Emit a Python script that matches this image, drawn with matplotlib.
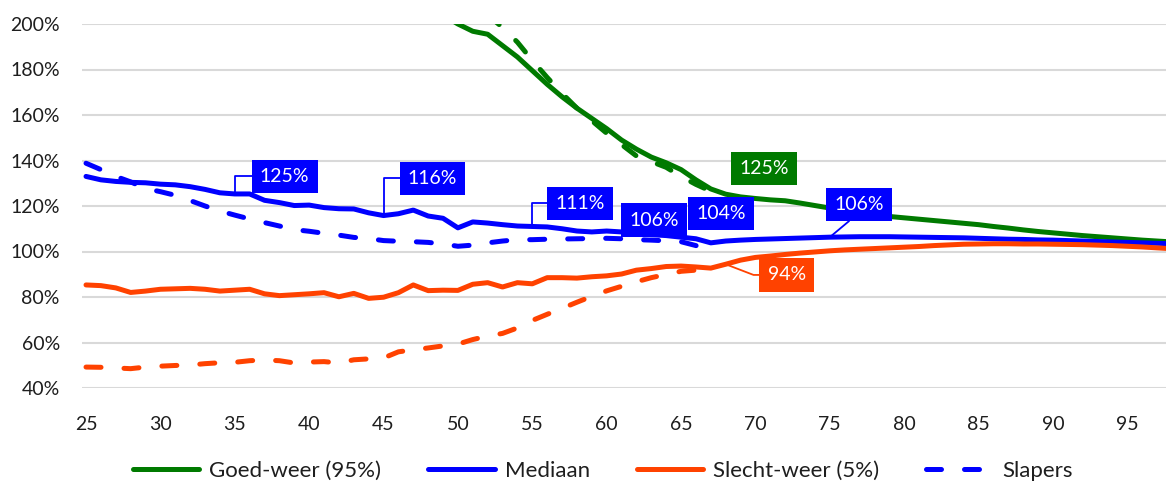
import matplotlib
matplotlib.use('Agg')
import matplotlib.pyplot as plt
from matplotlib.ticker import FuncFormatter, MultipleLocator

plt.rcParams['font.family'] = ['Lato', 'DejaVu Sans']

GREEN = '#007A00'
BLUE = '#0000FF'
RED = '#FF4200'
GRID = '#D9D9D9'
TEXT = '#1E1E1E'

# Ages on the x axis
ages = list(range(25, 99))

# Mediaan scenario, % per age 25..98
mediaan = [
    133.0, 131.5, 130.8, 130.4, 130.2, 129.6, 129.3, 128.5, 127.3, 125.8,
    125.3, 125.3, 122.5, 121.5, 120.2, 120.4, 119.3, 118.8, 118.7, 117.0,
    115.8, 116.6, 118.2, 115.6, 114.6, 110.4, 113.0, 112.5, 111.8, 111.2,
    111.0, 110.8, 110.0, 109.0, 108.6, 109.0, 108.6, 108.0, 107.4, 107.0,
    106.3, 105.6, 103.8, 104.6, 105.0, 105.3, 105.5, 105.7, 105.9, 106.1,
    106.3, 106.4, 106.5, 106.5, 106.5, 106.4, 106.3, 106.2, 106.1, 106.0,
    105.8, 105.6, 105.4, 105.3, 105.1, 105.0, 104.8, 104.6, 104.4, 104.2,
    104.0, 103.8, 103.6, 103.4,
]

# Slecht-weer (5%) scenario, age 25..98
slecht_weer = [
    85.3, 85.0, 84.0, 82.0, 82.6, 83.4, 83.6, 83.8, 83.4, 82.6,
    83.0, 83.4, 81.4, 80.6, 81.0, 81.4, 81.9, 80.1, 81.6, 79.4,
    79.9, 81.9, 85.3, 82.8, 83.0, 82.9, 85.6, 86.3, 84.4, 86.3,
    85.8, 88.5, 88.5, 88.3, 88.9, 89.3, 90.1, 91.8, 92.5, 93.4,
    93.6, 93.2, 92.7, 94.4, 96.2, 97.4, 98.0, 98.7, 99.3, 99.8,
    100.3, 100.7, 101.0, 101.3, 101.6, 101.9, 102.2, 102.6, 102.9, 103.2,
    103.3, 103.4, 103.4, 103.3, 103.3, 103.2, 103.1, 103.0, 102.8, 102.6,
    102.3, 102.0, 101.6, 101.2,
]

# Goed-weer (95%) scenario, only the part from age 49 reaches the chart
goed_weer_ages = list(range(49, 99))
goed_weer = [
    204.0, 200.0, 196.8, 195.5, 190.5, 185.5, 179.5, 173.5, 168.0, 163.0,
    158.5, 154.0, 149.0, 145.0, 141.5, 139.0, 136.0, 131.5, 127.5, 125.2,
    124.0, 123.3, 122.7, 122.3, 121.3, 120.2, 119.1, 118.0, 117.0, 116.1,
    115.4, 114.8, 114.2, 113.6, 113.0, 112.4, 111.8, 111.0, 110.3, 109.5,
    108.8, 108.2, 107.6, 107.0, 106.5, 106.0, 105.5, 105.0, 104.6, 104.2,
]

# Slapers variants (dashed), up to age 67
slapers_ages = list(range(25, 68))
slapers_mediaan = [
    138.8, 136.0, 133.0, 130.6, 127.7, 126.3, 124.7, 122.4, 120.0, 117.8,
    116.0, 114.3, 112.7, 111.2, 109.6, 108.9, 108.0, 107.2, 106.2, 105.7,
    104.8, 104.5, 104.3, 104.0, 103.3, 102.3, 102.8, 103.8, 104.6, 105.2,
    105.2, 105.4, 105.5, 105.6, 105.7, 105.8, 105.6, 105.2, 105.0, 104.7,
    104.3, 102.6, 101.0,
]
slapers_slecht = [
    49.2, 49.1, 48.8, 48.5, 49.2, 49.6, 49.9, 50.1, 50.7, 51.1,
    51.3, 52.0, 52.3, 52.0, 51.0, 51.4, 51.6, 51.0, 52.4, 52.8,
    53.2, 55.9, 56.8, 57.6, 58.5, 59.3, 61.3, 62.8, 64.0, 66.4,
    69.7, 72.4, 75.0, 77.7, 80.3, 82.7, 84.7, 86.7, 88.5, 89.9,
    91.3, 91.8, 91.2,
]
slapers_goed_ages = list(range(52, 68))
slapers_goed = [
    204.0, 198.5, 192.0, 184.0, 176.5, 169.5, 163.0, 157.5, 152.0, 147.0,
    142.0, 139.5, 137.0, 133.0, 129.5, 126.5,
]

fig = plt.figure(figsize=(11.66, 4.83), dpi=100)
ax = fig.add_axes([82 / 1166, 1 - 388 / 483, 1 - 82 / 1166, 364 / 483])

lw = 3.6
solid = dict(lw=lw, solid_capstyle='round', solid_joinstyle='round')
dashed = dict(lw=lw, dashes=(3, 4.6), dash_capstyle='round', dash_joinstyle='round')

l_goed, = ax.plot(goed_weer_ages, goed_weer, color=GREEN, label='Goed-weer (95%)', **solid)
l_med, = ax.plot(ages, mediaan, color=BLUE, label='Mediaan', **solid)
l_slecht, = ax.plot(ages, slecht_weer, color=RED, label='Slecht-weer (5%)', **solid)
ax.plot(slapers_goed_ages, slapers_goed, color=GREEN, **dashed)
l_slap, = ax.plot(slapers_ages, slapers_mediaan, color=BLUE, label='Slapers', **dashed)
ax.plot(slapers_ages, slapers_slecht, color=RED, **dashed)

ax.set_xlim(24.73, 97.6)
ax.set_ylim(40, 200)
ax.xaxis.set_major_locator(MultipleLocator(5))
ax.yaxis.set_major_locator(MultipleLocator(20))
ax.yaxis.set_major_formatter(FuncFormatter(lambda v, _: f'{v:.0f}%'))
ax.grid(axis='y', color=GRID, lw=1.5)
ax.set_axisbelow(True)
for s in ax.spines.values():
    s.set_visible(False)
ax.tick_params(axis='both', length=0, labelsize=14, labelcolor=TEXT)
ax.tick_params(axis='x', pad=20)
ax.tick_params(axis='y', pad=16)

# value boxes: series, age, colour, box centre, connector style
series = {
    'mediaan': (ages, mediaan),
    'slecht': (ages, slecht_weer),
    'goed': (goed_weer_ages, goed_weer),
}
labels = [
    ('mediaan', 35, BLUE, (38.35, 133.0), 'elbow'),
    ('mediaan', 45, BLUE, (48.3, 132.1), 'elbow'),
    ('mediaan', 55, BLUE, (58.2, 121.1), 'elbow'),
    ('mediaan', 65, BLUE, (63.2, 113.8), None),
    ('mediaan', 67, BLUE, (67.7, 116.7), None),
    ('mediaan', 75, BLUE, (76.95, 120.7), 'straight'),
    ('goed', 68, GREEN, (70.6, 136.5), None),
    ('slecht', 68, RED, (72.1, 89.7), 'bent'),
]

for key, age, color, pos, style in labels:
    xs, ys = series[key]
    val = ys[xs.index(age)]
    box = dict(boxstyle='square,pad=0.42', fc=color, ec='none')
    kw = dict(ha='center', va='center', color='white', fontsize=14,
              bbox=box, zorder=5)
    if style is None:
        ax.text(pos[0], pos[1], f'{val:.0f}%', **kw)
        continue
    arrow = dict(arrowstyle='-', color=color, lw=1.3, shrinkA=0, shrinkB=0)
    if style == 'elbow':
        arrow['connectionstyle'] = 'angle,angleA=0,angleB=90,rad=0'
    elif style == 'bent':
        arrow['connectionstyle'] = 'angle,angleA=0,angleB=-21,rad=0'
    else:
        arrow['relpos'] = (0.5, 0.0)
    ax.annotate(f'{val:.0f}%', xy=(age, val), xytext=pos, arrowprops=arrow, **kw)

fig.legend(handles=[l_goed, l_med, l_slecht, l_slap], loc='center',
           bbox_to_anchor=(603 / 1166, 1 - 471 / 483), ncol=4, frameon=False,
           fontsize=16, handlelength=3.0, handletextpad=0.45, columnspacing=2.1,
           labelcolor=TEXT)

fig.savefig('out.png', dpi=100)
